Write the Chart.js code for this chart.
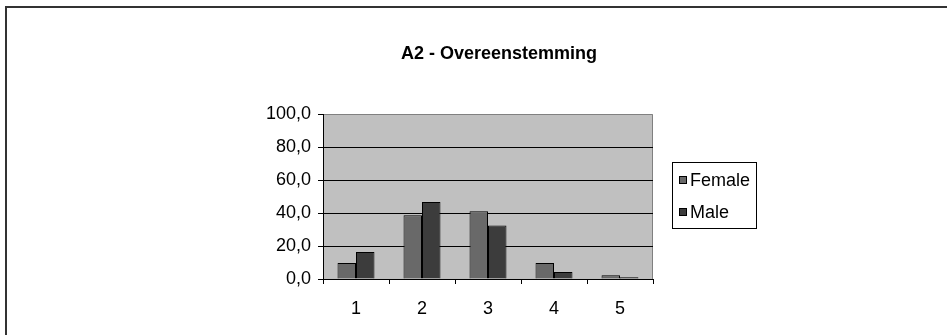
<!DOCTYPE html>
<html>
<head>
<meta charset="utf-8">
<script src="https://cdn.jsdelivr.net/npm/chart.js@4"></script>
<style>
  html, body { margin: 0; padding: 0; background: #fff; }
  #wrap { width: 947px; height: 335px; position: relative; }
</style>
</head>
<body>
<div id="wrap"><canvas id="chart"></canvas></div>
<script>
// values (percent)
const categories = ["1", "2", "3", "4", "5"];
const female = [9.7, 38.7, 41.1, 9.7, 2.2];
const male = [16.3, 46.6, 32.5, 4.2, 1.0];
const chartTitle = "A2 - Overeenstemming";
const seriesNames = ["Female", "Male"];

const FONT = "'Liberation Sans', Arial, sans-serif";

// frame, plot background, title and legend box
const decor = {
  id: "decor",
  beforeDraw(chart) {
    const { ctx, chartArea: a } = chart;
    ctx.save();
    ctx.fillStyle = "#fff";
    ctx.fillRect(0, 0, chart.width, chart.height);
    ctx.strokeStyle = "#333";
    ctx.lineWidth = 2;
    ctx.strokeRect(6, 7, chart.width + 10, chart.height + 10);
    ctx.fillStyle = "#c0c0c0";
    ctx.fillRect(a.left, a.top, a.right - a.left, a.bottom - a.top);
    ctx.strokeStyle = "#808080";
    ctx.lineWidth = 1;
    ctx.beginPath();
    ctx.moveTo(a.left, a.top + 0.5);
    ctx.lineTo(a.right - 0.5, a.top + 0.5);
    ctx.lineTo(a.right - 0.5, a.bottom);
    ctx.stroke();
    ctx.restore();
  },
  afterDraw(chart) {
    const ctx = chart.ctx;
    ctx.save();
    ctx.fillStyle = "#000";
    ctx.font = "bold 18px " + FONT;
    ctx.textAlign = "center";
    ctx.textBaseline = "middle";
    ctx.fillText(chartTitle, 499, 54);

    // legend
    ctx.strokeStyle = "#000";
    ctx.lineWidth = 1;
    ctx.strokeRect(672.5, 162.5, 84, 66);
    ctx.font = "18px " + FONT;
    ctx.textAlign = "left";
    const rows = [180, 212];
    chart.data.datasets.forEach((ds, i) => {
      const y = rows[i];
      ctx.fillStyle = ds.backgroundColor;
      ctx.fillRect(679, y - 4, 7, 7);
      ctx.strokeRect(679.5, y - 3.5, 7, 7);
      ctx.fillStyle = "#000";
      ctx.fillText(ds.label, 690, y + 1);
    });
    ctx.restore();
  }
};

new Chart(document.getElementById("chart"), {
  type: "bar",
  data: {
    labels: categories,
    datasets: [
      {
        label: seriesNames[0],
        data: female,
        backgroundColor: "#696969",
        borderColor: "#000",
        borderWidth: 1,
      },
      {
        label: seriesNames[1],
        data: male,
        backgroundColor: "#3c3c3c",
        borderColor: "#000",
        borderWidth: 1,
      },
    ],
  },
  options: {
    responsive: true,
    maintainAspectRatio: false,
    animation: false,
    layout: { padding: { left: 0, right: 294, top: 114, bottom: 0 } },
    datasets: {
      bar: { categoryPercentage: 0.56, barPercentage: 1.0 },
    },
    plugins: {
      legend: { display: false },
      title: { display: false },
      tooltip: { enabled: false },
    },
    scales: {
      x: {
        afterFit: (s) => { s.height = 56; },
        border: { color: "#000", width: 1 },
        grid: {
          offset: true,
          drawOnChartArea: false,
          drawTicks: true,
          tickLength: 5,
          color: "#000",
        },
        ticks: {
          color: "#000",
          font: { family: FONT, size: 18 },
          padding: 14,
          maxRotation: 0,
        },
      },
      y: {
        min: 0,
        max: 100,
        afterFit: (s) => { s.width = 323; },
        border: { color: "#000", width: 1 },
        grid: {
          color: (c) => (c.tick && c.tick.value === 100 ? "rgba(0,0,0,0)" : "#000"),
          tickColor: "#000",
          tickLength: 5,
        },
        ticks: {
          stepSize: 20,
          color: "#000",
          font: { family: FONT, size: 18 },
          padding: 7,
          callback: (v) => v.toFixed(1).replace(".", ","),
        },
      },
    },
  },
  plugins: [decor],
});
</script>
</body>
</html>
